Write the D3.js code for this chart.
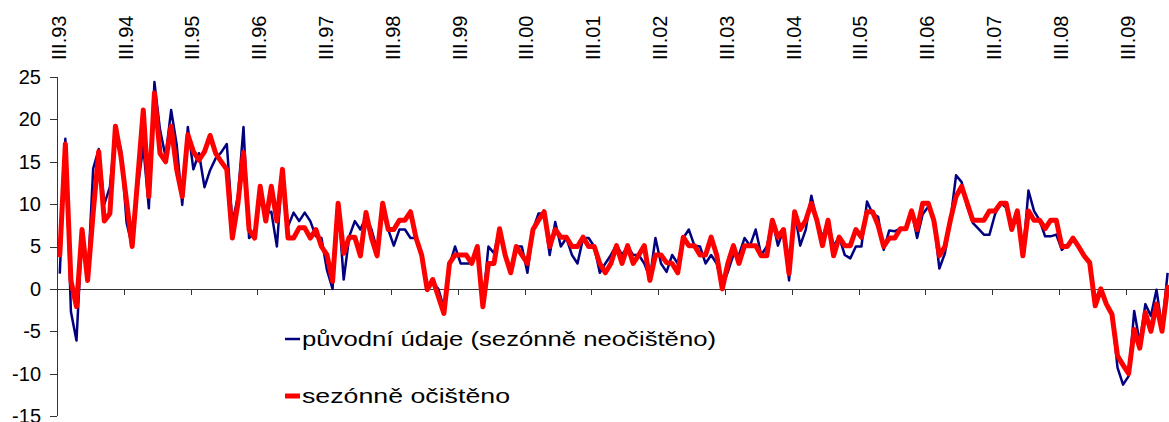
<!DOCTYPE html>
<html lang="cs">
<head>
<meta charset="UTF-8">
<title>Meziroční změna</title>
<style>
  body { margin: 0; background: #fff; }
  svg { display: block; font-family: Arial, "Liberation Sans", sans-serif; }
  .axis path, .axis line { stroke: #333; stroke-width: 1; shape-rendering: crispEdges; }
  .axis text { font-size: 20px; fill: #000; }
  .toplabel { font-size: 20px; fill: #000; }
  .legend text { font-size: 21px; fill: #000; }
</style>
</head>
<body>
<svg width="1169" height="422"></svg>
<script src="https://d3js.org/d3.v7.min.js"></script>
<script>
// monthly data, III.1993 .. X.2009
const original = [
  1.8, 17.7, -2.7, -6.1, 6.8, 1.0, 14.2, 16.5, 10.0, 12.0,
  19.0, 16.4, 7.8, 5.0, 12.0, 16.8, 9.5, 24.4, 18.8, 15.6,
  21.1, 17.0, 9.9, 19.1, 14.1, 16.0, 12.0, 14.0, 15.4, 16.1,
  17.1, 7.8, 10.9, 19.1, 6.0, 6.6, 12.1, 8.9, 9.1, 5.0,
  14.1, 7.4, 9.0, 8.0, 9.0, 8.0, 6.2, 6.0, 2.2, 0.0,
  10.1, 1.1, 6.2, 8.0, 7.0, 8.5, 7.0, 4.6, 8.9, 7.0,
  5.1, 7.0, 7.0, 6.0, 6.0, 4.0, 0.3, 0.7, 0.0, -2.3,
  2.8, 5.0, 3.0, 3.0, 3.0, 5.0, -1.7, 5.0, 4.2, 7.1,
  4.0, 1.9, 5.0, 5.0, 1.9, 7.0, 8.9, 8.9, 4.0, 7.9,
  5.0, 6.0, 4.0, 3.0, 6.0, 6.0, 5.0, 1.9, 3.0, 4.0,
  5.2, 4.0, 5.0, 4.0, 4.0, 3.0, 1.3, 6.0, 3.0, 2.0,
  4.0, 3.0, 6.0, 7.0, 5.1, 5.0, 3.0, 4.0, 3.0, 0.3,
  2.0, 4.0, 4.0, 6.0, 5.1, 7.0, 4.0, 5.0, 8.1, 5.1,
  7.0, 1.0, 9.1, 5.1, 7.0, 11.0, 8.1, 6.1, 8.1, 5.1,
  6.1, 4.0, 3.6, 5.0, 5.0, 10.3, 8.9, 8.5, 4.6, 6.9,
  6.8, 7.1, 7.1, 9.2, 6.0, 8.8, 9.7, 8.1, 2.4, 4.2,
  8.2, 13.4, 12.6, 9.7, 7.8, 7.1, 6.4, 6.4, 8.8, 10.1,
  9.6, 7.0, 9.2, 3.9, 11.6, 9.2, 8.1, 6.2, 6.2, 6.4,
  4.6, 5.2, 6.0, 5.0, 3.9, 3.1, -2.0, 0.0, -1.7, -3.0,
  -9.3, -11.3, -10.3, -2.6, -6.4, -1.8, -3.2, -0.1, -4.6, 1.9
];

const adjusted = [
  4.0, 17.1, 1.0, -2.1, 7.0, 1.0, 9.0, 16.2, 8.0, 8.9,
  19.2, 15.6, 10.3, 5.0, 13.0, 21.1, 10.9, 23.1, 16.0, 15.0,
  19.2, 14.1, 10.9, 18.2, 16.2, 15.2, 16.2, 18.1, 16.0, 15.0,
  14.1, 6.0, 10.1, 16.1, 7.0, 6.0, 12.1, 8.0, 12.1, 8.0,
  14.1, 6.0, 6.0, 7.2, 7.2, 6.0, 7.0, 5.0, 4.0, 0.9,
  10.1, 4.2, 6.1, 6.1, 3.9, 9.0, 6.0, 3.9, 10.1, 7.0,
  7.0, 8.1, 8.1, 9.1, 6.0, 4.0, -0.1, 1.1, -0.9, -2.9,
  3.0, 4.0, 4.0, 4.0, 3.0, 5.0, -2.1, 3.0, 3.0, 7.1,
  4.0, 1.9, 5.0, 4.0, 3.0, 7.0, 8.1, 9.1, 5.0, 7.0,
  6.1, 6.1, 5.0, 5.0, 6.1, 5.0, 5.0, 3.0, 1.9, 3.0,
  5.1, 3.0, 5.1, 3.0, 4.0, 5.1, 1.0, 4.0, 4.0, 3.1,
  3.0, 1.9, 6.1, 5.1, 5.1, 4.0, 4.0, 6.1, 4.0, 0.0,
  3.0, 5.1, 3.0, 5.1, 5.1, 5.1, 3.9, 3.9, 8.1, 6.1,
  7.0, 1.8, 9.1, 7.0, 8.1, 10.1, 8.1, 5.1, 8.1, 3.9,
  6.1, 5.1, 5.1, 7.0, 6.1, 9.1, 9.1, 7.5, 5.0, 6.0,
  6.0, 7.1, 7.1, 9.2, 7.0, 10.1, 10.1, 8.1, 3.9, 5.0,
  8.2, 10.9, 12.1, 10.1, 8.1, 8.1, 8.1, 9.2, 9.2, 10.1,
  10.1, 7.0, 9.2, 3.9, 9.2, 8.1, 8.1, 7.1, 8.1, 8.1,
  5.0, 5.0, 6.0, 5.0, 3.9, 3.1, -2.0, 0.0, -1.8, -3.0,
  -7.9, -9.0, -10.0, -4.8, -7.0, -2.8, -5.0, -1.8, -5.0, 0.2
];

const yTicks = [-15, -10, -5, 0, 5, 10, 15, 20, 25];
const yearLabels = ["III.93", "III.94", "III.95", "III.96", "III.97", "III.98", "III.99",
  "III.00", "III.01", "III.02", "III.03", "III.04", "III.05", "III.06", "III.07",
  "III.08", "III.09"];
const seriesNames = ["původní údaje (sezónně neočištěno)", "sezónně očištěno"];

// category labels month.year, starting at III.93
const roman = ["I","II","III","IV","V","VI","VII","VIII","IX","X","XI","XII"];
const categories = original.map((_, i) => {
  const m = (2 + i) % 12;
  const yr = (93 + Math.floor((2 + i) / 12)) % 100;
  return roman[m] + "." + String(yr).padStart(2, "0");
});

const svg = d3.select("svg");
const plotLeft = 57, plotTop = 77, plotBottom = 416;
const monthW = 5.567;

const x = d3.scaleBand()
  .domain(categories)
  .range([plotLeft, plotLeft + categories.length * monthW])
  .paddingInner(0).paddingOuter(0);
const xc = c => x(c) + x.bandwidth() / 2;

const xIdx = d3.scaleLinear()
  .domain([0, categories.length])
  .range([plotLeft, plotLeft + categories.length * monthW]);

const y = d3.scaleLinear().domain([-15, 25]).range([plotBottom, plotTop]);

// y axis
svg.append("g")
  .attr("class", "axis")
  .attr("transform", `translate(${plotLeft},0)`)
  .call(d3.axisLeft(y).tickValues(yTicks).tickSize(7).tickPadding(9)
    .tickFormat(d => String(d)))
  .call(g => g.select(".domain").attr("d", `M0,${plotTop}V${plotBottom}`));

// x axis at zero, ticks every 12 months
const tickIdx = d3.range(0, categories.length + 1, 12);
svg.append("g")
  .attr("class", "axis")
  .attr("transform", `translate(0,${y(0)})`)
  .call(d3.axisBottom(xIdx).tickValues(tickIdx).tickSize(6).tickSizeOuter(0)
    .tickFormat(""));

// top year labels
svg.append("g")
  .selectAll("text")
  .data(yearLabels)
  .join("text")
  .attr("class", "toplabel")
  .attr("transform", d => `translate(${xc(d) - 1},60) rotate(-90)`)
  .attr("dy", "0.35em")
  .text(d => d);

const line = d3.line()
  .x((d, i) => xc(categories[i]))
  .y(d => y(d));

svg.append("path")
  .datum(original)
  .attr("fill", "none")
  .attr("stroke", "#000080")
  .attr("stroke-width", 2.5)
  .attr("stroke-linejoin", "round")
  .attr("d", line);

svg.append("path")
  .datum(adjusted)
  .attr("fill", "none")
  .attr("stroke", "#ff0000")
  .attr("stroke-width", 5)
  .attr("stroke-linejoin", "round")
  .attr("stroke-linecap", "round")
  .attr("d", line);

// legend (text in the original is drawn a bit wider than the axis labels)
const legend = svg.append("g").attr("class", "legend");
const legendItems = [
  { name: seriesNames[0], color: "#000080", w: 2.5, y: 339, len: 414 },
  { name: seriesNames[1], color: "#ff0000", w: 5, y: 396, len: 208 }
];
legendItems.forEach(d => {
  legend.append("line")
    .attr("x1", 285).attr("x2", 300)
    .attr("y1", d.y).attr("y2", d.y)
    .attr("stroke", d.color).attr("stroke-width", d.w);
  legend.append("text")
    .attr("x", 302).attr("y", d.y)
    .attr("dy", "0.35em")
    .attr("textLength", d.len)
    .attr("lengthAdjust", "spacingAndGlyphs")
    .text(d.name);
});
</script>
</body>
</html>
